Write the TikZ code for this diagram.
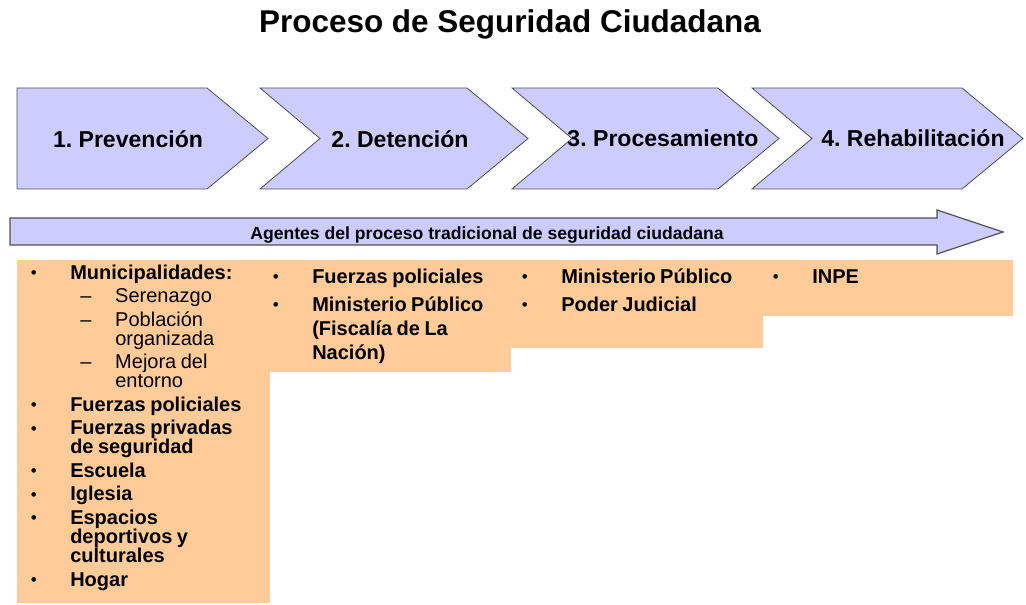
\documentclass[tikz,border=0pt]{standalone}
\usepackage{fontspec}
\setmainfont{Liberation Sans}
\frenchspacing
\definecolor{stagec}{RGB}{204,204,255}
\definecolor{agentc}{RGB}{255,204,153}
\definecolor{edgec}{RGB}{80,80,80}
\definecolor{inkc}{RGB}{0,0,0}
\tikzset{
  stage/.style={fill=stagec, draw=edgec, line width=0.6pt, line join=miter},
  stagelbl/.style={anchor=base, inner sep=0pt, text=inkc,
                   font=\fontsize{17.3pt}{20pt}\selectfont\bfseries},
  flow/.style={fill=stagec, draw=edgec, line width=0.9pt, line join=miter},
  flowlbl/.style={anchor=base, inner sep=0pt, text=inkc,
                  font=\fontsize{13.2pt}{15pt}\selectfont\bfseries},
  agentbg/.style={fill=agentc, draw=none},
  agentcol/.style={anchor=north west, inner sep=0pt, text width=220pt, text=inkc},
  headline/.style={anchor=base, inner sep=0pt, text=inkc,
                   font=\fontsize{23.6pt}{28pt}\selectfont\bfseries},
}
% one stage of the process: left x, right x, notch depth
\newcommand{\chev}[3]{%
  \draw[stage] (#1,88) -- (#2,88) -- ++(61,50.5) -- ++(-61,50.5) -- (#1,189)
    -- ++(#3,-50.5) -- cycle;}
\newcommand{\itmgap}{3pt}
\newcommand{\itmdot}{\raisebox{0.6pt}{\scalebox{0.85}{\textbullet}}}
\newcommand{\itm}[1]{\hangindent=30pt\hangafter=1\noindent
  \makebox[30pt][l]{\hspace*{0.4pt}\itmdot}\textbf{#1}\par\vspace{\itmgap}}
\newcommand{\subitm}[1]{\hangindent=63.75pt\hangafter=1\noindent
  \hspace*{37.5pt}\makebox[26.25pt][l]{\textendash}#1\par\vspace{\itmgap}}

\begin{document}
\begin{tikzpicture}[x=0.75pt, y=-0.75pt]
  \useasboundingbox (0,0) rectangle (1026,605);

  \node[headline] (title) at (510,33) {Proceso de Seguridad Ciudadana};

  \chev{17}{207}{0}
  \chev{260}{467}{60}
  \chev{512}{718}{60}
  \chev{752}{962}{60}
  \node[stagelbl] (prev) at (128,148) {1. Prevención};
  \node[stagelbl] (det) at (400,148) {2. Detención};
  \node[stagelbl] (proc) at (663,147) {3. Procesamiento};
  \node[stagelbl] (rehab) at (913,147) {4. Rehabilitación};

  \draw[flow] (10,218) -- (937,218) -- (937,210) -- (1003,232) -- (937,254)
    -- (937,245) -- (10,245) -- cycle;
  \node[flowlbl] (agents) at (487,240)
    {Agentes del proceso tradicional de seguridad ciudadana};

  % agents of each stage
  \fill[agentbg] (17,260) rectangle (270,603);
  \fill[agentbg] (270,260) rectangle (511,372);
  \fill[agentbg] (511,260) rectangle (763,348);
  \fill[agentbg] (763,260) rectangle (1013,316);

  \node[agentcol] (prevlist) at (30,264) {%
    \fontsize{15pt}{14.25pt}\selectfont\lineskiplimit=-20pt\def\itmgap{3.4pt}%
    \itm{\rule{0pt}{11.25pt}Municipalidades:}
    \subitm{Serenazgo}
    \subitm{Población\newline organizada}
    \subitm{Mejora del\newline entorno}
    \itm{Fuerzas policiales}
    \itm{Fuerzas privadas\newline de seguridad}
    \itm{Escuela}
    \itm{Iglesia}
    \itm{Espacios\newline deportivos y\newline culturales}
    \itm{Hogar}};
  \node[agentcol] (detlist) at (272,268) {%
    \fontsize{15pt}{18pt}\selectfont\lineskiplimit=-20pt%
    \itm{\rule{0pt}{11.25pt}Fuerzas policiales}
    \itm{Ministerio Público\newline (Fiscalía de La\newline Nación)}};
  \node[agentcol] (proclist) at (521,268) {%
    \fontsize{15pt}{18pt}\selectfont\lineskiplimit=-20pt%
    \itm{\rule{0pt}{11.25pt}Ministerio Público}
    \itm{Poder Judicial}};
  \node[agentcol] (rehablist) at (772,268) {%
    \fontsize{15pt}{18pt}\selectfont\lineskiplimit=-20pt%
    \itm{\rule{0pt}{11.25pt}INPE}};

\end{tikzpicture}
\end{document}
